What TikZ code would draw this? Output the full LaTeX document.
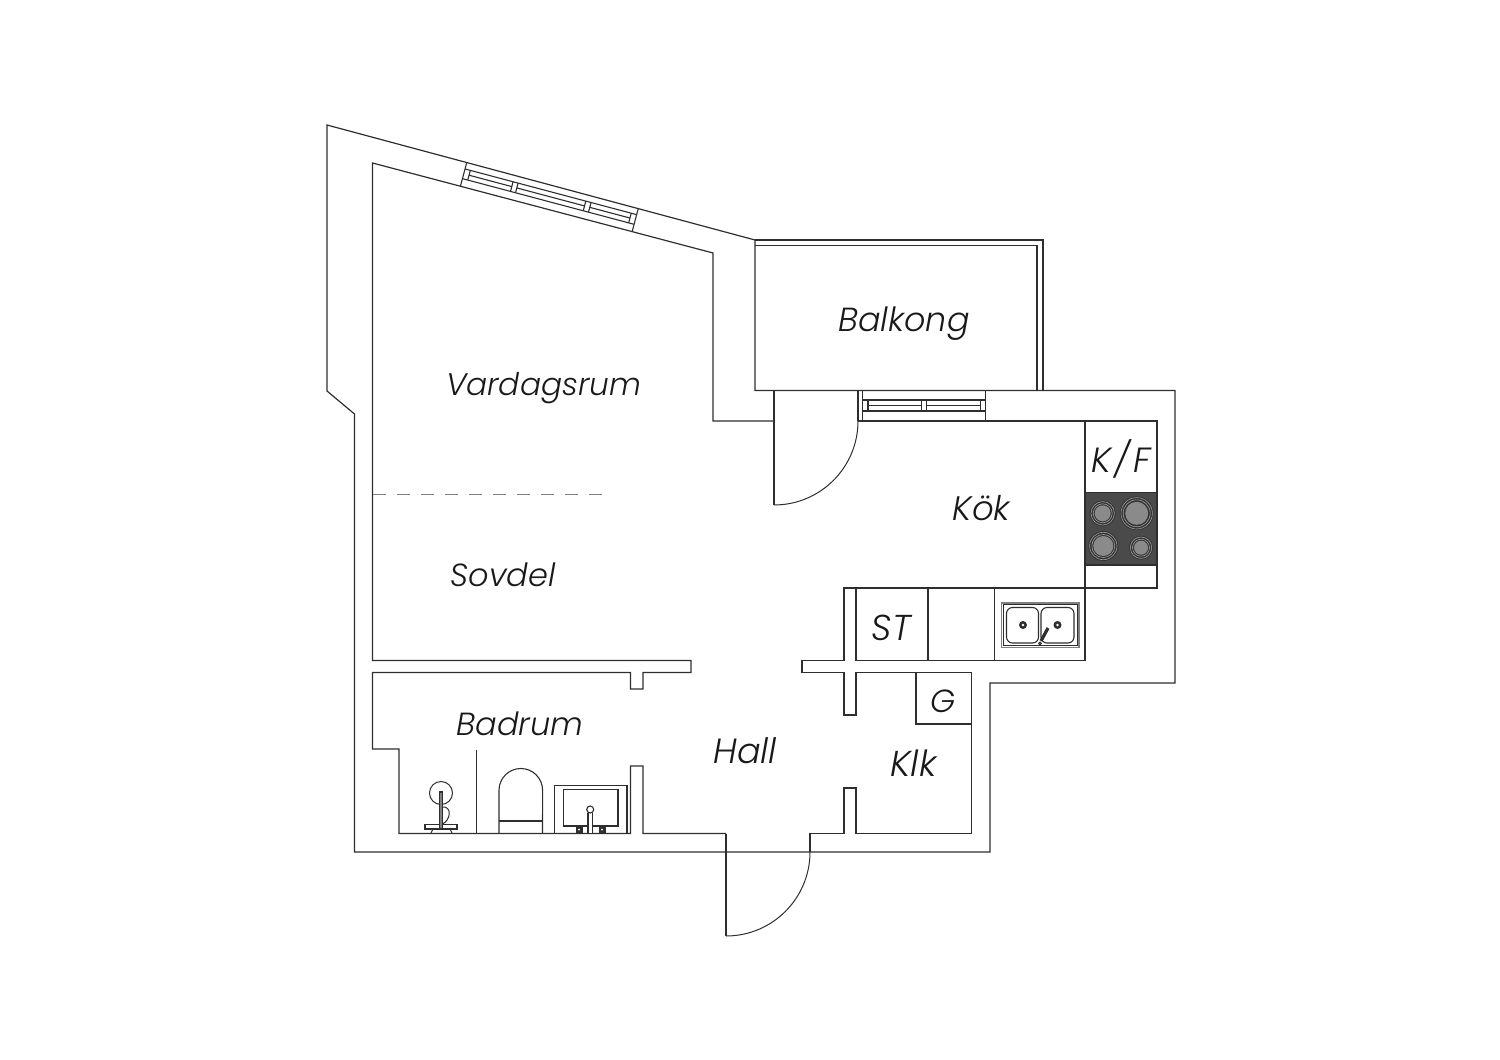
\documentclass[tikz,border=0pt]{standalone}
\usepackage{fontspec}
\setmainfont{Poppins}[ItalicFont={Poppins Light Italic}]
\definecolor{wallline}{HTML}{2E2E2E}
\definecolor{hobdark}{HTML}{4A4A4A}
\definecolor{hobring}{HTML}{8A8A8A}
\tikzset{
  wall/.style={draw=wallline, line width=0.6pt, line join=miter},
  fitting/.style={draw=wallline, line width=0.55pt},
  doorarc/.style={draw=wallline, line width=0.5pt},
  roomlabel/.style={inner sep=0pt, text=black!90, font=\fontsize{#1}{20}\selectfont\itshape},
  roomlabel/.default=16,
}
\begin{document}
\begin{tikzpicture}[x=0.5pt, y=-0.5pt]
\def\Burner#1#2#3#4{
\fill [black!80] (#1,#2) circle (#3);
\draw [hobring!80, line width=0.3pt] (#1,#2) circle (#3-3.5);
\draw [hobring!80, line width=0.3pt] (#1,#2) circle (#3-1.3);
\fill [hobring] (#1,#2) circle (#4);
}
\useasboundingbox (0,0) rectangle (1500,1060);

\draw [wall] (327,125) -- (327,391) -- (354.5,414) -- (354.5,852) -- (990,852) -- (990,683) -- (1175,683) -- (1175,390.5) -- (755,390.5) -- (755,240) -- cycle;
\draw [wall] (755,240) -- (1043,240) -- (1043,390.5);
\draw [wall] (755,245.7) -- (1037,245.7) -- (1037,390.5);

\draw [wall] (774,421) -- (713,421) -- (713,253) -- (372.5,163) -- (372.5,660.5) -- (691,660.5) -- (691,672.5) -- (643,672.5) -- (643,689) -- (630.5,689) -- (630.5,672.5) -- (372.5,672.5) -- (372.5,749) -- (399,749) -- (399,833.5) -- (630.5,833.5) -- (630.5,766) -- (643,766) -- (643,833.5) -- (726,833.5);
\draw [wall] (810,852) -- (810,833.5) -- (844,833.5) -- (844,788) -- (856,788) -- (856,833.5) -- (971.5,833.5) -- (971.5,672.5) -- (856,672.5) -- (856,715) -- (844,715) -- (844,672.5) -- (802,672.5) -- (802,660.5) -- (844,660.5) -- (844,588) -- (1157,588) -- (1157,421) -- (858,421);

\draw [wall] (774,390.5) -- (774,505);
\draw [doorarc] (774,505) arc (90:0:84);
\draw [wall] (858,390.5) -- (858,421);
\draw [wall] (726,833.5) -- (726,936);
\draw [doorarc] (726,936) arc (90:0:84);

\draw [fitting] (862.7,390.5) -- (862.7,421);
\draw [fitting] (985.7,390.5) -- (985.7,421);
\draw [fitting] (862.7,400) -- (985.7,400);
\draw [fitting] (862.7,411) -- (985.7,411);
\draw [fitting] (868,400) -- (868,411);
\draw [fitting] (980.7,400) -- (980.7,411);
\draw [fitting] (921.7,400) -- (921.7,411);
\draw [fitting] (926.7,400) -- (926.7,411);
\draw [fitting] (868,405.5) -- (921.7,405.5);
\draw [fitting] (926.7,405.5) -- (980.7,405.5);

\begin{scope}[shift={(466.7,162.7)}, rotate=-14.9]
\draw [fitting] (0,0) -- (0,24);
\draw [fitting] (177.6,0) -- (177.6,24);
\draw [fitting] (0,6.5) -- (177.6,6.5);
\draw [fitting] (0,16.5) -- (177.6,16.5);
\foreach \u/\v in {5.5/49.7,54.9/125,130.4/172}
  \draw [fitting] (\u,11.5) -- (\v,11.5);
\foreach \u in {5.5,49.7,54.9,125,130.4,172}
  \draw [fitting] (\u,6.5) -- (\u,16.5);
\end{scope}

\draw [gray, line width=0.7pt, dash pattern=on 6.3pt off 5.7pt] (373,494.5) -- (602,494.5);

\draw [wall] (1085,421) -- (1085,660.5) -- (856,660.5) -- (856,588);
\foreach \x in {928,994.5}
  \draw [fitting] (\x,588) -- (\x,660.5);
\draw [wall, fill=hobdark] (1085,492.5) rectangle (1157,565);
\Burner{1102.7}{513.3}{13}{8}
\Burner{1136.7}{513.3}{17}{11.5}
\Burner{1103.3}{546}{15}{10}
\Burner{1141}{547.7}{12}{7}

\draw [fitting, line width=0.9pt, gray] (1001.5,602.8) rectangle (1079,647.5);
\draw [fitting, line width=0.4pt] (1003.5,604.8) rectangle (1077,645.5);
\draw [fitting, rounded corners=3pt] (1006.5,607.5) rectangle (1038.5,643);
\draw [fitting, rounded corners=3pt] (1041,607.5) rectangle (1074,643);
\foreach \x in {1023,1057.5}
{
  \fill [wallline] (\x,625) circle (4);
  \fill [white] (\x,625) circle (1.3);
}
\draw [wallline, line width=1.6pt] (1041,641) -- (1048,628);
\draw [fitting, fill=white] (1040,643.5) circle (1.4);

\draw [wall] (916,672.5) -- (916,724) -- (971.5,724);

\draw [wall] (476.5,750) -- (476.5,833.5);
\draw [fitting] (499,833.5) -- (499,790.3) arc (180:360:21.8) -- (542.5,833.5);
\draw [fitting] (499,821) -- (542.5,821);
\draw [fitting] (554.5,833.5) -- (554.5,785.5) -- (627,785.5) -- (627,833.5);
\draw [fitting] (563.5,789.5) rectangle (618,826);
\fill [white] (587.5,812) rectangle (593,833);
\draw [fitting] (590.2,809.5) circle (3.5);
\draw [fitting] (588,813) -- (588,833);
\draw [fitting] (592.5,813) -- (592.5,833);
\foreach \x in {579,602}
{
  \fill [wallline] (\x-3.5,826) rectangle (\x+3.5,833);
  \fill [white] (\x,829.5) circle (1);
}
\draw [doorarc] (441,793) circle (11.5);
\draw [fitting, fill=white] (425,824.5) rectangle (457,829);
\draw [fitting, fill=gray] (439.5,792) rectangle (442.5,829);
\draw [doorarc] (442.5,807) .. controls (452,806) and (451,820) .. (442.5,824);
\draw [fitting] (431,833) -- (433,829) -- (450,829) -- (452,833);
\draw [wall] (399,833.5) -- (630.5,833.5);

\node [roomlabel=15.6] (vardagsrum) at (543.5,388) {Vardagsrum};
\node [roomlabel] (sovdel) at (503,575) {Sovdel};
\node [roomlabel=16.7] (balkong) at (904,324) {Balkong};
\node [roomlabel=17.5] (kf) at (1121,459) {K\kern1.5pt/\kern1.5pt F};
\node [roomlabel=17] (kok) at (981.5,508) {Kök};
\node [roomlabel=18] (st) at (891.5,628) {ST};
\node [roomlabel] (g) at (943,701) {G};
\node [roomlabel=18] (klk) at (913.5,763) {Klk};
\node [roomlabel] (badrum) at (520,724) {Badrum};
\node [roomlabel=17.5] (hall) at (745,751) {Hall};
\end{tikzpicture}
\end{document}
